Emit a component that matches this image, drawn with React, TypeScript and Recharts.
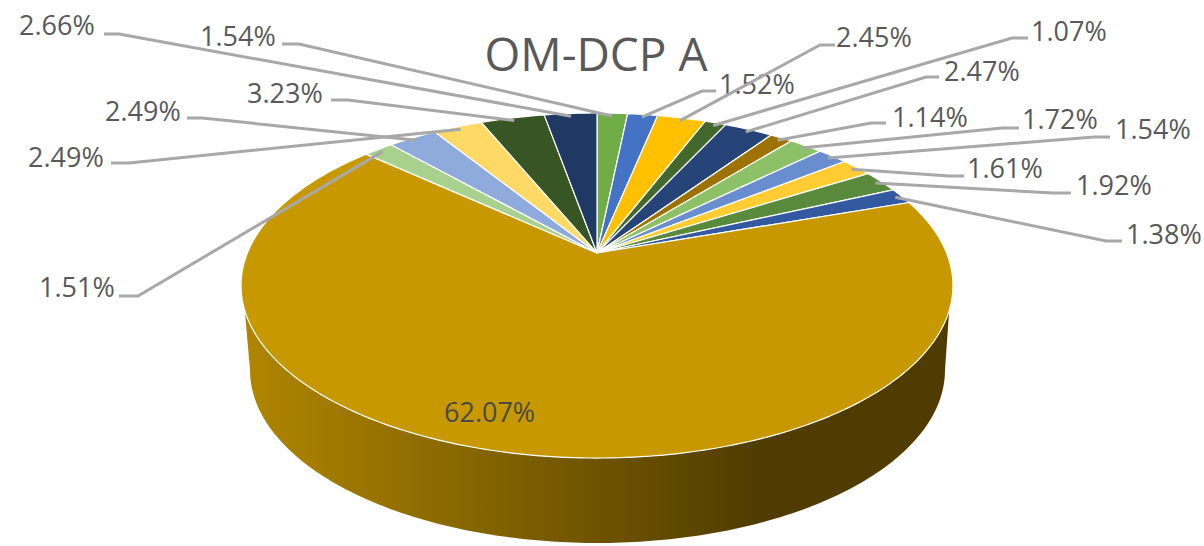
import React from "react";
import { Pie, PieChart } from "recharts";

// clockwise from 12 o'clock
const shares = [1.54, 1.52, 2.45, 1.07, 2.47, 1.14, 1.72, 1.54, 1.61, 1.92, 1.38, 62.07, 1.51, 2.49, 2.49, 3.23, 2.66];
const fills = [
  "#70AD47", "#4472C4", "#FFC000", "#43682B", "#264478", "#9E7200", "#8CC168", "#698ED0", "#FFCD33",
  "#5A8A3C", "#335AA1", "#C89800", "#A9D18E", "#8FAADC", "#FFD966", "#375623", "#1F3864",
];
const TITLE = "OM-DCP A";
const BIG_SLICE = 11;

// excel placed these by hand: [text left, text middle y, line start x, elbow x, line y]
const labelSpots: number[][] = [
  [200, 35, 282, 299, 44],
  [719, 83, 716, 702, 91],
  [836, 36, 835, 820, 45],
  [1031, 30, 1028, 1012, 38],
  [944, 70, 939, 926, 77],
  [892, 116, 886, 871, 123],
  [1022, 118, 1019, 1002, 128],
  [1115, 128, 1110, 1094, 137],
  [967, 167, 964, 949, 176],
  [1076, 184, 1071, 1053, 193],
  [1126, 233, 1122, 1106, 241],
  [444, 411, 0, 0, 0],
  [39, 286, 119, 138, 296],
  [105, 110, 187, 202, 118],
  [28, 156, 111, 129, 163],
  [247, 92, 331, 348, 100],
  [19, 24, 104, 119, 34],
];

const tableData = shares.map((value, i) => ({ name: `${value}%`, value, fill: fills[i] }));

// the tilted top face: a circle seen in perspective, so the centre sits above the ellipse's middle
const APEX_X = 597;
const APEX_Y = 253;
const FACE_A = 349.6;
const FACE_B = 166.4;
const FACE_K = 0.1885;

function rim(deg: number) {
  const t = (deg * Math.PI) / 180;
  const d = 1 + FACE_K * Math.cos(t);
  return { x: APEX_X + (FACE_A * Math.sin(t)) / d, y: APEX_Y - (FACE_B * Math.cos(t)) / d };
}

function sample(from: number, to: number, fn: (deg: number) => { x: number; y: number }) {
  const steps = Math.max(2, Math.ceil(Math.abs(to - from) / 1));
  const out: string[] = [];
  for (let i = 0; i <= steps; i++) {
    const p = fn(from + ((to - from) * i) / steps);
    out.push(`${p.x.toFixed(2)} ${p.y.toFixed(2)}`);
  }
  return out;
}

// lower edge of the wall
function lowerRim(deg: number) {
  const t = (deg * Math.PI) / 180;
  return { x: 597.5 + 347.5 * Math.sin(t), y: 370 - 173 * Math.cos(t) };
}

function Slice(props: any) {
  const from = 90 - props.startAngle;
  const to = 90 - props.endAngle;
  const face = `M${APEX_X} ${APEX_Y} L${sample(from, to, rim).join(" L")} Z`;
  const wall = `M${sample(109, 251, rim).join(" L")} L${sample(270, 90, lowerRim).join(" L")} Z`;
  return (
    <g>
      {props.index === BIG_SLICE && <path d={wall} fill="url(#wallShade)" stroke="none" />}
      <path d={face} fill={props.fill} stroke="#fff" strokeWidth={1.2} strokeLinejoin="round" />
    </g>
  );
}

function SliceLabel(props: any) {
  const spot = labelSpots[props.index];
  const inside = props.index === BIG_SLICE;
  const text = (
    <text
      x={spot[0]}
      y={spot[1]}
      dominantBaseline="central"
      textAnchor="start"
      fontFamily="'Open Sans', sans-serif"
      fontSize={27}
      fill={inside ? "#4A4A45" : "#595959"}
    >
      {tableData[props.index].name}
    </text>
  );
  if (inside) return <g>{text}</g>;
  // lines stop a little inside the rim
  const end = rim(90 - props.midAngle);
  const endX = end.x + (APEX_X - end.x) * 0.02;
  const endY = end.y + (APEX_Y - end.y) * 0.02;
  return (
    <g>
      <polyline
        points={`${spot[2]},${spot[4]} ${spot[3]},${spot[4]} ${endX},${endY}`}
        fill="none"
        stroke="#A8A8A8"
        strokeWidth={3}
      />
      {text}
    </g>
  );
}

export default function App() {
  return (
    <div style={{ position: "absolute", left: 0, top: 0, width: 1204, height: 546, background: "#fff" }}>
      <PieChart width={1204} height={546} margin={{ top: 0, right: 0, bottom: 0, left: 0 }}>
        <defs>
          <linearGradient id="wallShade" gradientUnits="userSpaceOnUse" x1="245" y1="0" x2="760" y2="0">
            <stop offset="0%" stopColor="#B08600" />
            <stop offset="100%" stopColor="#503C00" />
          </linearGradient>
        </defs>
        <Pie
          data={tableData}
          dataKey="value"
          nameKey="name"
          cx={APEX_X}
          cy={APEX_Y}
          outerRadius={200}
          startAngle={90}
          endAngle={-270}
          shape={Slice}
          label={SliceLabel}
          labelLine={false}
          isAnimationActive={false}
        />
        <text x={596} y={71} textAnchor="middle" fontFamily="'Open Sans', sans-serif" fontSize={46} fill="#595959">
          {TITLE}
        </text>
      </PieChart>
    </div>
  );
}
